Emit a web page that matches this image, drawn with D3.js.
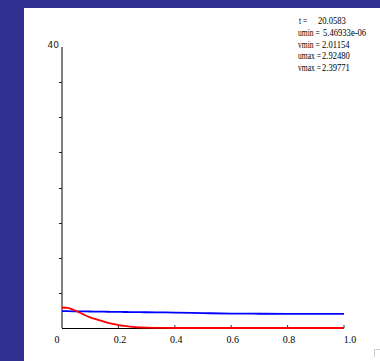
<!DOCTYPE html>
<html><head><meta charset="utf-8">
<script src="https://cdn.jsdelivr.net/npm/d3@7"></script>
<style>body{margin:0;background:#fff}svg{display:block}</style>
</head><body>
<script>
const xs = [0,0.02,0.04,0.06,0.08,0.1,0.12,0.14,0.16,0.18,0.2,0.22,0.24,0.26,0.28,0.3,0.35,0.4,0.5,0.6,0.7,0.8,0.9,1.0];
const uVals = [2.92,2.85,2.6,2.25,1.85,1.52,1.25,1.0,0.78,0.58,0.42,0.3,0.2,0.12,0.07,0.04,0.01,0,0,0,0,0,0,0];
const vVals = [2.40,2.39,2.38,2.37,2.36,2.35,2.34,2.33,2.31,2.30,2.29,2.28,2.27,2.26,2.25,2.24,2.22,2.2,2.12,2.05,2.03,2.02,2.015,2.01];
const xTicks = [0,0.2,0.4,0.6,0.8,1.0];
const xTickLabels = ["0","0.2","0.4","0.6","0.8","1.0"];
const yTicks = [0,5,10,15,20,25,30,35,40];
const infoLabels = ["t =","umin =","vmin =","umax =","vmax ="];
const infoValues = ["20.0583","5.46933e-06","2.01154","2.92480","2.39771"];

const W=380,H=361;
const svg=d3.select("body").append("svg").attr("width",W).attr("height",H);
svg.append("rect").attr("width",W).attr("height",H).attr("fill","#303090");
svg.append("rect").attr("x",24).attr("y",8).attr("width",W-24).attr("height",H-8).attr("fill","#fff");

const x=d3.scaleLinear().domain([0,1]).range([62,344]);
const y=d3.scaleLinear().domain([0,40]).range([328,47]);

svg.append("line").attr("x1",x(0)).attr("x2",x(1)).attr("y1",y(0)+0.5).attr("y2",y(0)+0.5).attr("stroke","#000").attr("stroke-width",1);
svg.selectAll(".xt").data(xTicks).enter().append("line")
 .attr("x1",d=>x(d)).attr("x2",d=>x(d)).attr("y1",y(0)).attr("y2",y(0)-3).attr("stroke","#333");
const lastI=xTicks.length-1;
svg.selectAll(".xl").data(xTicks).enter().append("text")
 .attr("x",(d,i)=>x(d)+(i===0?-5:(i===lastI?6:1.5))).attr("y",343).attr("text-anchor","middle")
 .attr("font-family","Liberation Serif, serif").attr("font-size",10).attr("fill","#000")
 .text((d,i)=>xTickLabels[i]);

svg.append("line").attr("x1",62).attr("x2",62).attr("y1",y(40)).attr("y2",y(0)).attr("stroke","#808080").attr("stroke-width",2);
svg.selectAll(".yt").data(yTicks.slice(1,-1)).enter().append("line")
 .attr("x1",59).attr("x2",62).attr("y1",d=>Math.round(y(d))+0.5).attr("y2",d=>Math.round(y(d))+0.5).attr("stroke","#222");
svg.append("text").attr("x",59).attr("y",48).attr("text-anchor","end")
 .attr("font-family","DejaVu Sans, sans-serif").attr("font-size",9).attr("fill","#222").text(String(yTicks[yTicks.length-1]));

const line=d3.line().x(d=>x(d[0])).y(d=>y(d[1])).curve(d3.curveMonotoneX);
svg.append("path").datum(xs.map((d,i)=>[d,vVals[i]])).attr("d",line).attr("fill","none").attr("stroke","#0000ff").attr("stroke-width",1.8);
svg.append("path").datum(xs.map((d,i)=>[d,uVals[i]])).attr("d",line).attr("fill","none").attr("stroke","#ff0000").attr("stroke-width",1.8);

const g=svg.append("g").attr("font-family","Liberation Serif, serif").attr("font-size",10).attr("fill","#000");
const labX=[299,298,298,298,298];
const valX=[318,323,322,322,322];
infoLabels.forEach((l,i)=>{
  const yy=24+i*11.8;
  g.append("text").attr("transform",`translate(${labX[i]},${yy}) scale(0.76,1)`).text(l);
  g.append("text").attr("transform",`translate(${valX[i]},${yy}) scale(0.86,1)`).text(infoValues[i]);
});
svg.append("path").attr("d","M374.5,357 L374.5,349.5 L380,349.5").attr("fill","none").attr("stroke","#ccc");
</script>
</body></html>
